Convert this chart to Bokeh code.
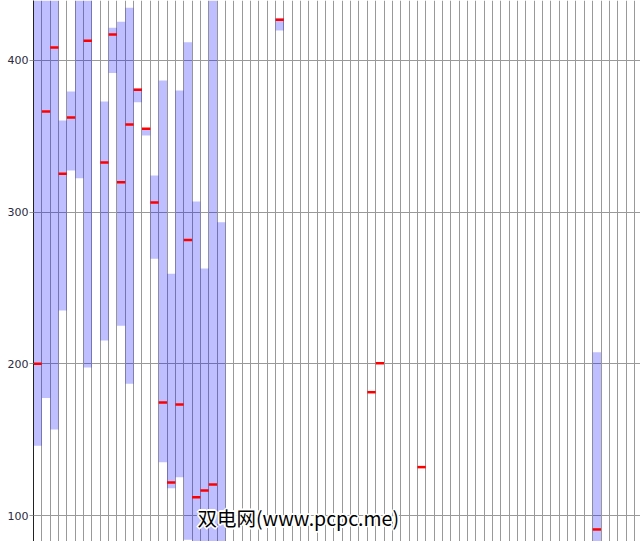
from bokeh.plotting import figure
from bokeh.models import FixedTicker, Range1d, Label, ColumnDataSource
from bokeh.embed import file_html
from bokeh.resources import INLINE

# one column per slot; bar spans low..high, red tick marks the mean
slots = [0, 1, 2, 3, 4, 5, 6, 8, 9, 10, 11, 12, 13, 14, 15, 16, 17, 18, 19, 20,
         21, 22, 29, 40, 41, 46, 67]
highs = [460, 460, 460, 360.4, 379.6, 470, 460, 373, 421.6, 425.5, 434.7, 381.5,
         355.5, 324.2, 386.8, 259.4, 380.2, 412.1, 307.0, 262.9, 460, 293.4,
         427.9, 181.3, 200.4, 131.9, 207.7]
lows = [146, 177.4, 156.7, 235.2, 327.5, 322.4, 197.6, 215.4, 391.7, 225.1, 186.8,
        372.5, 350.6, 269.3, 135.1, 118.0, 125.3, 84.0, 70, 70, 70, 70,
        419.8, 181.3, 200.4, 131.9, 70]
means = [200, 366.4, 408.6, 325.3, 362.4, 452, 413, 332.8, 417.1, 319.8, 357.8,
         380.7, 355.0, 306.4, 174.5, 121.8, 173.2, 281.6, 112.1, 116.5, 120.4, 75,
         426.8, 181.3, 200.4, 131.9, 90.8]
y_ticks = [100, 200, 300, 400]
n_slots = 72.73

src = ColumnDataSource(dict(
    x=[s + 0.5 for s in slots], high=highs, low=lows, mean=means))

p = figure(width=640, height=541, output_backend="svg", toolbar_location=None,
           x_range=Range1d(0, n_slots), y_range=Range1d(82.86, 439.56),
           x_axis_location=None, min_border_left=33, min_border_right=0,
           min_border_top=0, min_border_bottom=0)
p.outline_line_color = None
p.background_fill_color = "white"
p.border_fill_color = "white"

p.xgrid.ticker = FixedTicker(ticks=list(range(0, 73)))
p.xgrid.grid_line_color = "#999999"
p.ygrid.grid_line_color = "#999999"

p.yaxis.ticker = FixedTicker(ticks=y_ticks)
p.yaxis.axis_line_color = "#222222"
p.yaxis.major_tick_line_color = "#999999"
p.yaxis.major_tick_out = 4
p.yaxis.major_tick_in = 0
p.yaxis.minor_tick_line_color = None
p.yaxis.major_label_standoff = 1
p.yaxis.major_label_text_font = "DejaVu Sans"
p.yaxis.major_label_text_font_size = "11px"
p.yaxis.major_label_text_color = "#2a2a40"

p.vbar(x="x", width=1, top="high", bottom="low", source=src,
       fill_color="blue", fill_alpha=0.25, line_color=None)
p.rect(x="x", y="mean", width=1, height=2.5, height_units="screen", source=src,
       fill_color="red", line_color=None)

# watermark with a white halo
wm_text = "双电网(www.pcpc.me)"
wm_x, wm_y = 19.65, 98.7
wm_size = "19.5px"
for dx, dy in [(-1, -1), (-1, 0), (-1, 1), (0, -1), (0, 1), (1, -1), (1, 0), (1, 1),
               (-2, 0), (2, 0), (0, -2), (0, 2)]:
    p.add_layout(Label(x=wm_x, y=wm_y, x_offset=dx, y_offset=dy, text=wm_text,
                       text_font="Noto Sans CJK SC", text_font_size=wm_size,
                       text_color="white", text_baseline="middle", text_align="left"))
p.add_layout(Label(x=wm_x, y=wm_y, text=wm_text, text_font="Noto Sans CJK SC",
                   text_font_size=wm_size, text_color="black",
                   text_baseline="middle", text_align="left"))

open("out.html", "w").write(file_html(p, INLINE))
